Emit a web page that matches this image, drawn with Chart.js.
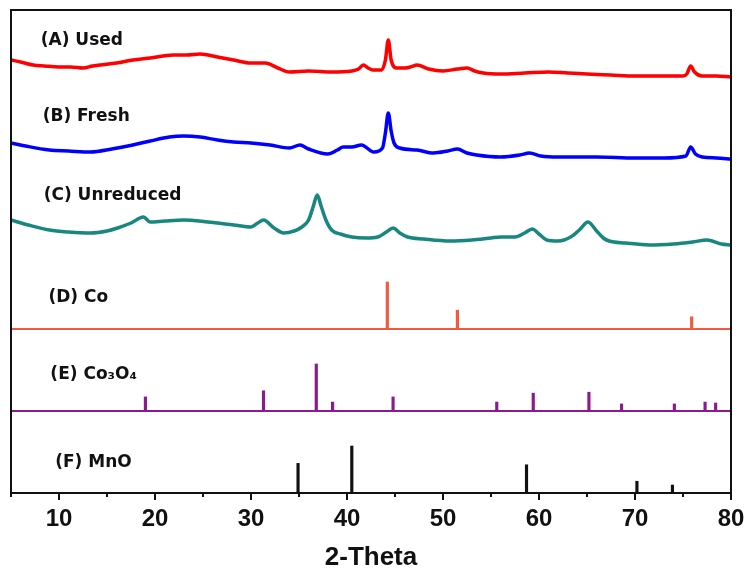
<!DOCTYPE html>
<html>
<head>
<title>XRD patterns</title>
<script src="https://cdn.jsdelivr.net/npm/chart.js"></script>
<style>
  body {
  margin: 0;
  padding: 0;
  background-color: #fff;
}
#wrap {
  width: 746px;
  height: 571px;
}
</style>
</head>
<body>
<div id="wrap"><canvas id="chart" width="746" height="571"></canvas></div>

<script>
// measured patterns: [2-theta, intensity (a.u., stacked offset included)]
const usedPattern = [
  [5, 433], [6, 431], [7.3, 428], [8.5, 427], [10, 426], [11.2, 426], [12.5, 425], [13.5, 427],
  [14.3, 428], [16, 430], [17.7, 433], [19.5, 435], [21.9, 438], [23.3, 438], [24.7, 439],
  [26.5, 436], [28.2, 433], [30, 430], [31.5, 430], [32.8, 425], [34, 421], [36, 422],
  [38.4, 421], [40.5, 422], [41.2, 424], [41.7, 428], [42.2, 425], [42.7, 423], [43.6, 423],
  [44, 433], [44.3, 453], [44.6, 433], [45.2, 425], [46, 425], [46.6, 426], [47.3, 428],
  [48.5, 424], [50, 422], [51.5, 424], [52.5, 425], [53.3, 422], [54.2, 420], [56, 419],
  [58.5, 420], [61, 421], [63, 420], [65, 419], [67.5, 418], [70, 417], [72.5, 417], [75, 417],
  [75.4, 419], [75.8, 427], [76.2, 421], [77, 417], [78.5, 417], [80, 416]
];
const freshPattern = [
  [5, 350], [6.5, 347], [9, 343], [11, 342], [13.3, 341], [15.5, 344], [17.7, 348], [19.5, 352],
  [21.5, 356], [23, 357], [24.7, 356], [26.5, 353], [28.2, 351], [30, 350], [32, 348],
  [34, 345], [35.1, 348], [36, 344], [38, 339], [39, 343], [39.6, 346], [40.5, 346], [41.5, 348],
  [42.8, 341], [43.7, 345], [44, 360], [44.3, 380], [44.6, 362], [44.9, 350], [45.5, 345],
  [47.3, 343], [49, 340], [50.5, 342], [51.5, 344], [52.5, 340], [53.5, 338], [56, 336],
  [58, 338], [59, 340], [60.2, 337], [62, 336], [66, 336], [70, 335], [73, 335], [75.3, 337],
  [75.8, 346], [76.3, 339], [77, 336], [78.5, 335], [80, 334]
];
const unreducedPattern = [
  [5, 273], [6.8, 268], [9, 263], [11, 261], [13.3, 260], [15, 262], [16.1, 265], [17.5, 270],
  [18.8, 276], [19.5, 271], [21, 272], [23, 273], [25.5, 271], [28.2, 268], [30, 266],
  [30.7, 270], [31.3, 273], [32.4, 265], [33.4, 260], [34.5, 262], [35.3, 266], [36, 273],
  [36.5, 287], [36.9, 298], [37.3, 287], [37.8, 273], [38.4, 263], [39.3, 259], [40.5, 256],
  [42, 255], [43.2, 256], [44.1, 261], [44.8, 265], [45.5, 260], [46.3, 256], [48, 254],
  [50.7, 252], [53, 253], [55, 255], [56, 256], [57.5, 256], [58.5, 260], [59.3, 264],
  [60, 259], [60.8, 253], [62, 252], [63.3, 256], [64.2, 263], [65.1, 271], [66, 262],
  [66.7, 255], [67.3, 252], [69, 250], [71.5, 248], [74, 249], [76, 251], [77.5, 253],
  [79, 249], [80, 248]
];

// reference peak positions and relative intensities (%)
const coTheta = [44.2, 51.5, 75.9];
const coIntensity = [100, 40, 26];
const co3o4Theta = [19.0, 31.3, 36.8, 38.5, 44.8, 55.6, 59.4, 65.2, 68.6, 74.1, 77.3, 78.4];
const co3o4Intensity = [30, 43, 100, 19, 30, 19, 38, 40, 15, 15, 19, 17];
const mnoTheta = [34.9, 40.5, 58.7, 70.2, 73.9];
const mnoIntensity = [63, 100, 60, 25, 17];

const xTicks = [10, 20, 30, 40, 50, 60, 70, 80];

const patternLabels = [
  { text: '(A) Used', x: 8.1, y: 452 },
  { text: '(B) Fresh', x: 8.3, y: 376 },
  { text: '(C) Unreduced', x: 8.4, y: 297 },
  { text: '(D) Co', x: 8.9, y: 195 },
  { text: '(E) Co\u2083O\u2084', x: 9.1, y: 118 },
  { text: '(F) MnO', x: 9.6, y: 30 }
];

const STICK_SCALE = 0.47;
const CO_BASE = 164;
const CO3O4_BASE = 82;
const MNO_BASE = 0;

function toPoints(pairs) {
  return pairs.map(p => ({ x: p[0], y: p[1] }));
}

function sticks(theta, inten, base) {
  return theta.map((t, i) => ({ x: t, y: [base, base + inten[i] * STICK_SCALE] }));
}

function traceSet(pairs, color) {
  return {
    type: 'line',
    data: toPoints(pairs),
    borderColor: color,
    borderWidth: 3.5,
    pointRadius: 0,
    cubicInterpolationMode: 'monotone',
    fill: false
  };
}

function baseline(base, color) {
  return {
    type: 'line',
    data: [{ x: 5, y: base }, { x: 80, y: base }],
    borderColor: color,
    borderWidth: 2,
    pointRadius: 0,
    fill: false
  };
}

function stickSet(theta, inten, base, color) {
  return {
    type: 'bar',
    data: sticks(theta, inten, base),
    backgroundColor: color,
    borderWidth: 0,
    barThickness: 2.5,
    grouped: false
  };
}

// frame, tick marks and pattern labels
const decorations = {
  id: 'decorations',
  afterDatasetsDraw(chart) {
    const ctx = chart.ctx;
    const a = chart.chartArea;
    const xs = chart.scales.x;
    const ys = chart.scales.y;
    ctx.save();
    ctx.strokeStyle = '#111';
    ctx.lineWidth = 2;
    ctx.strokeRect(a.left, a.top, a.right - a.left, a.bottom - a.top);
    for (let v = 5; v <= 80; v += 5) {
      const px = Math.round(xs.getPixelForValue(v));
      const len = v % 10 === 0 ? 7 : 4;
      ctx.beginPath();
      ctx.moveTo(px, a.bottom);
      ctx.lineTo(px, a.bottom + len);
      ctx.stroke();
    }
    ctx.fillStyle = '#111';
    ctx.textBaseline = 'middle';
    ctx.textAlign = 'left';
    ctx.font = 'bold 17px "DejaVu Sans", sans-serif';
    patternLabels.forEach(l => {
      ctx.fillText(l.text, xs.getPixelForValue(l.x), ys.getPixelForValue(l.y));
    });
    ctx.restore();
  }
};

new Chart(document.getElementById('chart'), {
  data: {
    datasets: [
      traceSet(usedPattern, '#ff0000'),
      traceSet(freshPattern, '#0000ff'),
      traceSet(unreducedPattern, '#17877f'),
      baseline(CO_BASE, '#f25a40'),
      stickSet(coTheta, coIntensity, CO_BASE, '#f25a40'),
      baseline(CO3O4_BASE, '#8c1a8c'),
      stickSet(co3o4Theta, co3o4Intensity, CO3O4_BASE, '#8c1a8c'),
      stickSet(mnoTheta, mnoIntensity, MNO_BASE, '#111111')
    ]
  },
  options: {
    responsive: false,
    devicePixelRatio: 1,
    animation: false,
    layout: { padding: { left: 11, right: 15, top: 10, bottom: 0 } },
    plugins: {
      legend: { display: false },
      tooltip: { enabled: false }
    },
    scales: {
      x: {
        type: 'linear',
        min: 5,
        max: 80,
        offset: false,
        grid: { display: false, drawTicks: false },
        border: { display: false },
        afterBuildTicks(scale) {
          scale.ticks = xTicks.map(v => ({ value: v }));
        },
        afterFit(scale) {
          scale.height = 78;
          scale.paddingLeft = 0;
          scale.paddingRight = 0;
        },
        ticks: {
          padding: 12,
          color: '#111',
          maxRotation: 0,
          font: { family: '"Liberation Sans", Arial, sans-serif', size: 24, weight: 'bold' }
        },
        title: {
          display: true,
          text: '2-Theta',
          color: '#111',
          padding: { top: 0, bottom: 0 },
          font: { family: '"Liberation Sans", Arial, sans-serif', size: 26, weight: 'bold', lineHeight: 1 }
        }
      },
      y: {
        type: 'linear',
        min: 0,
        max: 483,
        display: false
      }
    }
  },
  plugins: [decorations]
});
</script>
</body>
</html>
